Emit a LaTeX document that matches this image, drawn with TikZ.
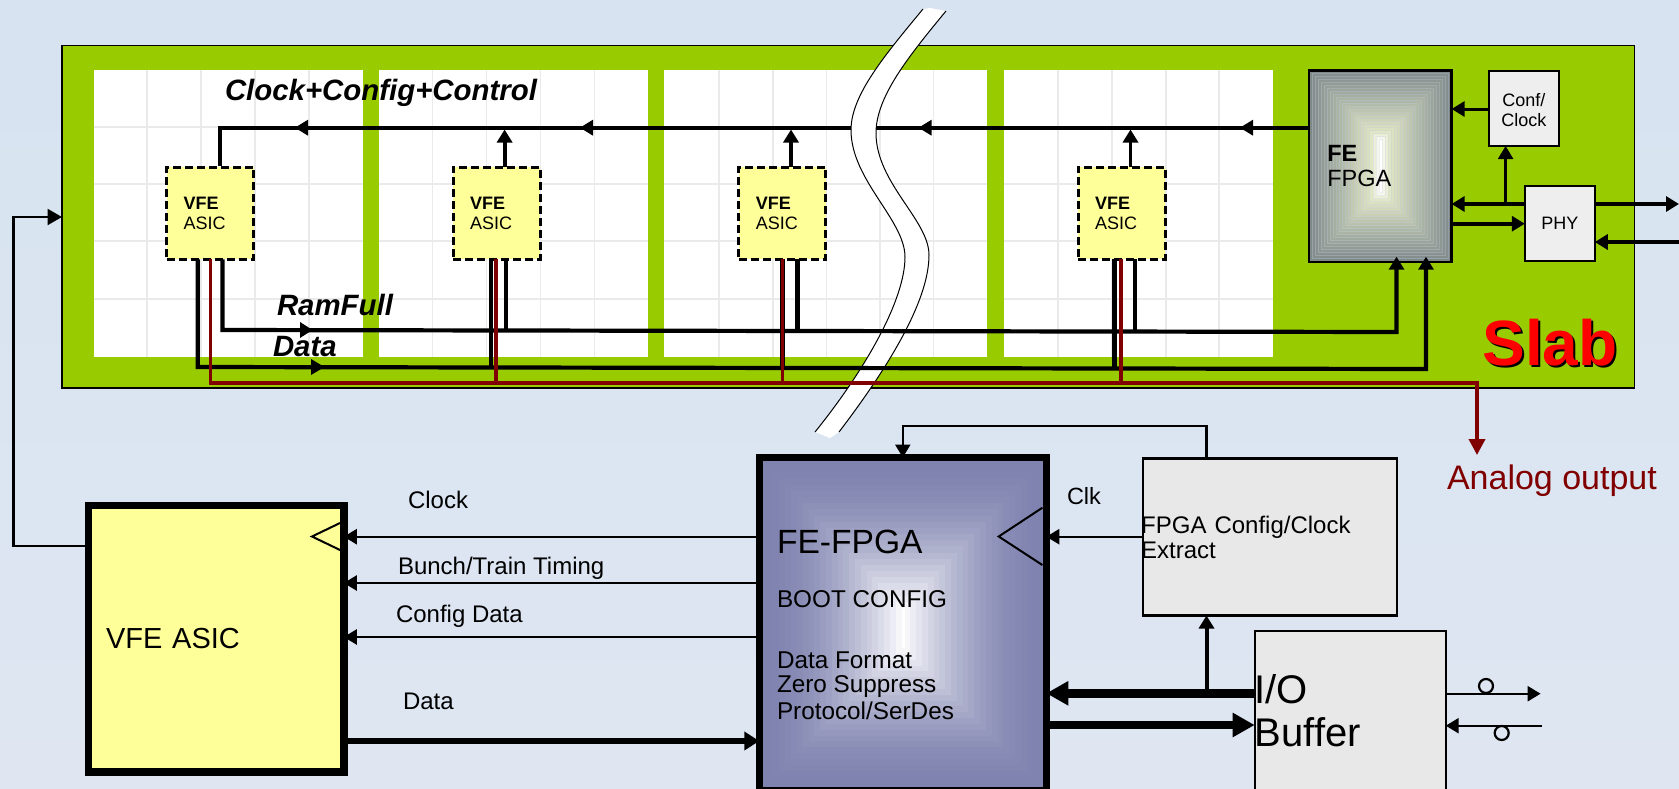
\documentclass[tikz,border=0pt]{standalone}
\usepackage{fontspec}
\setmainfont{Liberation Sans}
\usetikzlibrary{arrows.meta}
\definecolor{slabgreen}{HTML}{99CC00}
\definecolor{asicyellow}{HTML}{FFFF99}
\definecolor{darkred}{HTML}{800000}
\definecolor{boxgray}{HTML}{E8E8E8}
\definecolor{chipgray}{HTML}{EEEEEE}
\definecolor{gridgray}{HTML}{EAEAEA}
\definecolor{bgtop}{HTML}{D7E3F1}
\definecolor{bgbot}{HTML}{DFE6F2}
\definecolor{fa}{HTML}{7E898A}
\definecolor{fb}{HTML}{DEE5C3}
\definecolor{ga}{HTML}{7F83AF}
\definecolor{bandline}{HTML}{C9CDE4}
\newcommand{\tsize}[2]{\fontsize{#1}{#2}\selectfont}
\tikzset{
  every node/.style={inner sep=0pt,outer sep=0pt},
  wire/.style={line width=2.4pt,draw=black},
  bus/.style={line width=4.2pt,draw=black},
  fat/.style={line width=8.5pt,draw=black},
  redbus/.style={line width=3.6pt,draw=darkred},
  tipS/.style={-{Triangle[length=13pt,width=15pt]}},
  tipM/.style={-{Triangle[length=14.5pt,width=16pt]}},
  tipL/.style={-{Triangle[length=22pt,width=23pt]}},
  vfebox/.style={draw=black,fill=asicyellow,line width=3pt,dash pattern=on 8pt off 4pt,
    minimum width=87pt,minimum height=92pt,text width=53pt,inner xsep=17pt,align=left,
    font=\tsize{18}{20}},
  chipbox/.style={draw=black,fill=chipgray,line width=2.5pt,align=center,font=\tsize{18}{20}},
  graybox/.style={draw=black,fill=boxgray,line width=2.4pt,align=left},
  lab/.style={anchor=west,font=\tsize{24}{26}},
  biglab/.style={anchor=west,font=\tsize{29.4}{30}\bfseries\itshape},
  felab/.style={anchor=west,font=\tsize{24.3}{26}},
}
\begin{document}
\begin{tikzpicture}[x=1pt,y=-1pt]
\useasboundingbox (0,0) rectangle (1679,788);
\clip (0,0) rectangle (1679,788);
\shade[top color=bgtop,bottom color=bgbot] (0,0) rectangle (1679,788);

% slab
\node[draw=black,fill=slabgreen,line width=1.5pt,minimum width=1572.5pt,minimum height=342.7pt] (slab) at (848.25,216.65) {};

% panels and grids
\foreach \xa/\xb in {93.7/363,378.7/648,664/987,1004/1273}
  \fill[white] (\xa,69.5) rectangle (\xb,356.7);
\foreach \xa/\xb in {93.7/363,378.7/648,664/987,1004/1273}
  \foreach \yy in {127,184,241,299}
    \draw[gridgray,line width=1.6pt] (\xa,\yy) -- (\xb,\yy);
\foreach \xx in {147,201,255,309,432.5,486.5,540.5,594.5,719,773,826.5,880,933.6,1058,1112,1166,1219}
  \draw[gridgray,line width=1.6pt] (\xx,69.5) -- (\xx,356.7);

% FE FPGA (slab) shading
\foreach \i in {0,...,23}{
  \pgfmathsetmacro\pp{\i/23}
  \pgfmathsetmacro\hw{71-\pp*69.5}
  \pgfmathsetmacro\hh{95.5-\pp*69}
  \pgfmathsetmacro\pa{\pp<0.86?100*(1-\pp/0.86):0}
  \pgfmathsetmacro\pb{\pp<0.86?0:100*(\pp-0.86)/0.14}
  \ifdim\pp pt<0.86pt
    \colorlet{tmpc}{fa!\pa!fb}
  \else
    \colorlet{tmpc}{white!\pb!fb}
  \fi
  \fill[tmpc] (1380.3-\hw,166-\hh) rectangle (1380.3+\hw,166+\hh);
  \draw[bandline,line width=0.5pt,opacity=0.3] (1380.3-\hw,166-\hh) rectangle (1380.3+\hw,166+\hh);
}
\node[draw=black,line width=2.6pt,minimum width=142.6pt,minimum height=191.7pt,
  text width=106pt,inner xsep=18pt,align=left,font=\tsize{23.5}{25}] (fefpga) at (1380.3,166.2) {\textbf{FE}\\FPGA};

\node[chipbox,minimum width=70pt,minimum height=75pt] (conf) at (1523.8,108.5) {\rule{0pt}{15.5pt}Conf/\\Clock};
\node[chipbox,minimum width=70pt,minimum height=75pt] (phy) at (1559.8,223.5) {PHY};

% clock line
\coordinate (ckc) at (219.6,127.7);
\draw[bus] (fefpga.west |- ckc) -- (ckc) -- (219.6,166);

% break band
\fill[white] (923,9) .. controls (885,55) and (851,95) .. (851,130)
  .. controls (851,180) and (905,220) .. (905,257)
  .. controls (905,300) and (865,370) .. (815,432)
  -- (830,438) -- (839,432)
  .. controls (890,365) and (929,300) .. (929,255)
  .. controls (929,220) and (876,183) .. (876,133)
  .. controls (876,97) and (908,57) .. (946,11) -- (930,8) -- cycle;
\draw[black,line width=1pt] (923,9) .. controls (885,55) and (851,95) .. (851,130)
  .. controls (851,180) and (905,220) .. (905,257)
  .. controls (905,300) and (865,370) .. (815,432);
\draw[black,line width=1pt] (946,11) .. controls (908,57) and (876,97) .. (876,133)
  .. controls (876,183) and (929,220) .. (929,255)
  .. controls (929,300) and (890,365) .. (839,432);

% VFE chips
\node[vfebox] (v1) at (210,213.4) {\textbf{VFE}\\ASIC};
\node[vfebox] (v2) at (496.5,213.4) {\textbf{VFE}\\ASIC};
\node[vfebox] (v3) at (782.4,213.4) {\textbf{VFE}\\ASIC};
\node[vfebox] (v4) at (1121.5,213.4) {\textbf{VFE}\\ASIC};

% clock branch arrows and mid-line tips
\foreach \name/\xx in {v2/504.6,v3/791,v4/1130.5}{
  \coordinate (up) at (\xx,129.5);
  \draw[line width=3.8pt,tipS] (up |- \name.north) -- (up);
}
\foreach \xx in {295,580,918.6,1240}
  \fill (\xx,127.7) -- (\xx+13,119.7) -- (\xx+13,135.7) -- cycle;

% ram full bus
\coordinate (ramA) at (222.5,330);
\coordinate (ramB) at (1396.5,332);
\coordinate (ramC) at (1396.5,256.7);
\draw[bus,line cap=butt,tipS] (ramA |- v1.south) -- (ramA) -- (ramB) -- (ramC);
\foreach \name/\xx in {v2/506,v3/797.6,v4/1135}{
  \coordinate (dr) at (\xx,331);
  \draw[line width=4.4pt] (dr |- \name.south) -- (dr);
}
\fill (312.5,330) -- (300,322) -- (300,338) -- cycle;

% data bus
\coordinate (datA) at (197.7,367);
\coordinate (datB) at (1426,369);
\coordinate (datC) at (1426,256.7);
\draw[bus,tipS] (datA |- v1.south) -- (datA) -- (datB) -- (datC);
\foreach \name/\xx in {v2/491,v3/782.6,v4/1114.5}{
  \coordinate (dr) at (\xx,368);
  \draw[line width=4.8pt] (dr |- \name.south) -- (dr);
}
\fill (324.5,367) -- (311,359) -- (311,375) -- cycle;

% analog bus
\coordinate (redA) at (210.5,382.7);
\coordinate (redB) at (1477,382.7);
\coordinate (redC) at (1477,455);
\foreach \name/\xx in {v2/496,v3/782.6,v4/1121}{
  \coordinate (dr) at (\xx,382.7);
  \draw[redbus] (dr |- \name.south) -- (dr);
}
\draw[redbus,-{Triangle[length=16pt,width=16pt]}] (redA |- v1.south) -- (redA) -- (redB) -- (redC);
\node[font=\tsize{34}{36},text=darkred,anchor=west] (aout) at (1447,481) {Analog output};

% labels slab
\node[biglab] (lcfg) at (225,93) {Clock+Config+Control};
\node[biglab] (lram) at (277,305) {RamFull};
\node[biglab] (ldat) at (273,347) {Data};
\node[font=\tsize{64}{66}\bfseries,text=black] (slabs) at (1552,345) {Slab};
\node[font=\tsize{64}{66}\bfseries,text=red] (slabt) at (1550,343) {Slab};

% right side links
\coordinate (yC) at (0,109);
\coordinate (yP) at (0,204);
\coordinate (yQ) at (0,223.7);
\coordinate (yR) at (0,242);
\coordinate (brX) at (1505.6,204);
\draw[line width=3pt,tipS] (conf.west |- yC) -- (fefpga.east |- yC);
\draw[bus,tipS] (phy.west |- yP) -- (fefpga.east |- yP);
\draw[line width=2.6pt,tipS] (brX) -- (brX |- conf.south);
\draw[bus,tipS] (fefpga.east |- yQ) -- (phy.west |- yQ);
\coordinate (outR) at (1679,204);
\coordinate (inR) at (1679,242);
\draw[bus,tipS] (phy.east |- yP) -- (outR);
\draw[bus,tipS] (inR) -- (phy.east |- yR);

% ---- lower part ----
\node[draw=black,fill=asicyellow,line width=7.5pt,minimum width=255.4pt,minimum height=266.5pt,
  text width=220pt,inner xsep=17.7pt,align=left,font=\tsize{29}{31}] (vfe) at (216.1,638.75) {VFE ASIC};
\draw[black,line width=2pt] (340,523) -- (312,536.5) -- (340,550);

\coordinate (lw) at (13.4,546);
\coordinate (lt) at (13.4,217);
\draw[wire,tipM] (vfe.west |- lw) -- (lw) -- (lt) -- (slab.west |- lt);

% big FE-FPGA
\foreach \i in {0,...,24}{
  \pgfmathsetmacro\pp{\i/24}
  \pgfmathsetmacro\hw{141-\pp*139.5}
  \pgfmathsetmacro\hh{164-\pp*144}
  \pgfmathsetmacro\pa{100*(1-\pp^1.8)}
  \colorlet{tmpc}{ga!\pa!white}
  \fill[tmpc] (903-\hw,624+\pp*4-\hh) rectangle (903+\hw,624+\pp*4+\hh);
}
\node[draw=black,line width=7.5pt,minimum width=287pt,minimum height=333pt] (big) at (902.8,624) {};
\node[anchor=west,font=\tsize{33.6}{35}] (t1) at (777,541.7) {FE-FPGA};
\node[felab] (t2) at (777,599) {BOOT CONFIG};
\node[felab] (t3) at (777,660) {Data Format};
\node[felab] (t4) at (777,686.5) {Zero Suppress};
\node[felab] (t5) at (777,711) {Protocol/SerDes};
\draw[black,line width=2pt] (1042.4,507.7) -- (998.7,536.5) -- (1042.4,565);

% left links
\coordinate (y1) at (0,536.7);
\coordinate (y2) at (0,583);
\coordinate (y3) at (0,637);
\coordinate (y4) at (0,741);
\draw[wire,tipS] (big.west |- y1) -- (vfe.east |- y1);
\draw[wire,tipS] (big.west |- y2) -- (vfe.east |- y2);
\draw[wire,tipS] (big.west |- y3) -- (vfe.east |- y3);
\draw[line width=5.5pt,-{Triangle[length=15pt,width=18pt]}] (vfe.east |- y4) -- (big.west |- y4);
\node[lab] (l1) at (408,500) {Clock};
\node[lab] (l2) at (398,568) {Bunch/Train Timing};
\node[lab] (l3) at (396,616) {Config Data};
\node[lab] (l4) at (403,701) {Data};

% config box
\node[graybox,minimum width=254pt,minimum height=157pt,text width=258pt,inner xsep=-2pt,
  font=\tsize{24}{25}] (cfg) at (1270.2,537) {FPGA Config/Clock\\Extract};
\node[lab,font=\tsize{23.5}{25}] (clk) at (1067,495.7) {Clk};
\draw[wire,tipS] (cfg.west |- y1) -- (big.east |- y1);
\coordinate (fbx) at (1206.5,426);
\coordinate (fby) at (903,426);
\draw[wire,tipS] (fbx |- cfg.north) -- (fbx) -- (fby) -- (big.north |- fby) -- (big.north);

% IO buffer
\node[graybox,minimum width=191pt,minimum height=160pt,text width=191pt,inner xsep=-1pt,
  font=\tsize{40}{43}] (io) at (1350.2,711) {I/O\\Buffer};
\coordinate (yA) at (0,693.3);
\coordinate (yB) at (0,725);
\coordinate (yU) at (1206.5,693.3);
\draw[fat,tipL] (io.west |- yA) -- (big.east |- yA);
\draw[fat,tipL] (big.east |- yB) -- (io.west |- yB);
\draw[line width=4pt,tipS] (yU) -- (yU |- cfg.south);
\coordinate (o1) at (1540.6,693.7);
\coordinate (o2) at (1542,725.7);
\draw[wire,tipS] (io.east |- o1) -- (o1);
\draw[wire,tipS] (o2) -- (io.east |- o2);
\node[draw=black,line width=2.2pt,circle,minimum size=14pt] (c1) at (1486,686) {};
\node[draw=black,line width=2.2pt,circle,minimum size=14pt] (c2) at (1501.7,733) {};
\end{tikzpicture}
\end{document}
